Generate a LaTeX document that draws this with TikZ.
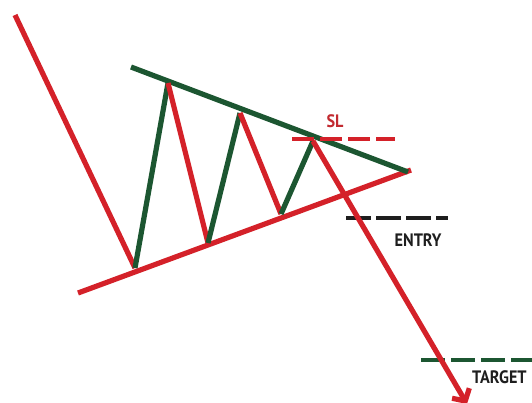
\documentclass[tikz,border=0pt]{standalone}
\usepackage{fontspec}
\setmainfont{PT Sans}
\usetikzlibrary{arrows.meta,positioning}
\definecolor{Bear}{HTML}{D42129}
\definecolor{Bull}{HTML}{1C5631}
\definecolor{Ink}{HTML}{1E1E1E}
\definecolor{SLred}{HTML}{C22A30}
\tikzset{
  downleg/.style={draw=Bear,line width=5.2pt},
  upleg/.style={draw=Bull,line width=5.2pt},
  level/.style={line width=4.4pt,dash pattern=on 24pt off 6pt},
  tag/.style={font=\bfseries\fontsize{18}{18}\selectfont,inner sep=0pt,xscale=0.9,transform shape}
}
\begin{document}
\begin{tikzpicture}[x=1pt,y=-1pt]
  \useasboundingbox (0,0) rectangle (532,402);
  % swing points
  \coordinate (start) at (15,15);
  \coordinate (low1) at (135,268);
  \coordinate (high1) at (168,83);
  \coordinate (low2) at (208,243);
  \coordinate (high2) at (240,113);
  \coordinate (low3) at (281,214);
  \coordinate (high3) at (313,141);
  \coordinate (target) at (467,404);
  % trendlines
  \coordinate (supA) at (78,293);
  \coordinate (supB) at (411,170);
  \coordinate (resA) at (131,67);
  \coordinate (resB) at (408,172);
  \draw[downleg] (supA) -- (supB);
  \draw[upleg] (resA) -- (resB);
  % zigzag
  \draw[downleg] (start) -- (low1);
  \draw[upleg] (low1) -- (high1);
  \draw[downleg] (high1) -- (low2);
  \draw[upleg] (low2) -- (high2);
  \draw[downleg] (high2) -- (low3);
  \draw[upleg] (low3) -- (high3);
  % levels
  \coordinate (slL) at (292,139);
  \coordinate (slR) at (395,139);
  \coordinate (enL) at (346,218);
  \coordinate (enR) at (448,218);
  \coordinate (tgL) at (421,360);
  \coordinate (tgR) at (540,360);
  \draw[level,draw=Bear,dash pattern=on 22pt off 6pt] (slL) -- (slR);
  \draw[level,draw=Ink,dash pattern=on 25pt off 5pt] (enL) -- (enR);
  \draw[level,draw=Bull] (tgL) -- (tgR);
  % breakout
  \draw[downleg,-{Straight Barb[length=9pt,width=20pt]}] (high3) -- (target);
  % labels
  \node[tag,text=SLred] (sl) at (335,121) {SL};
  \node[tag,text=Ink] (entry) at (418,240) {ENTRY};
  \node[tag,text=Ink,anchor=west] (tgt) at (472,377) {TARGET};
\end{tikzpicture}
\end{document}
